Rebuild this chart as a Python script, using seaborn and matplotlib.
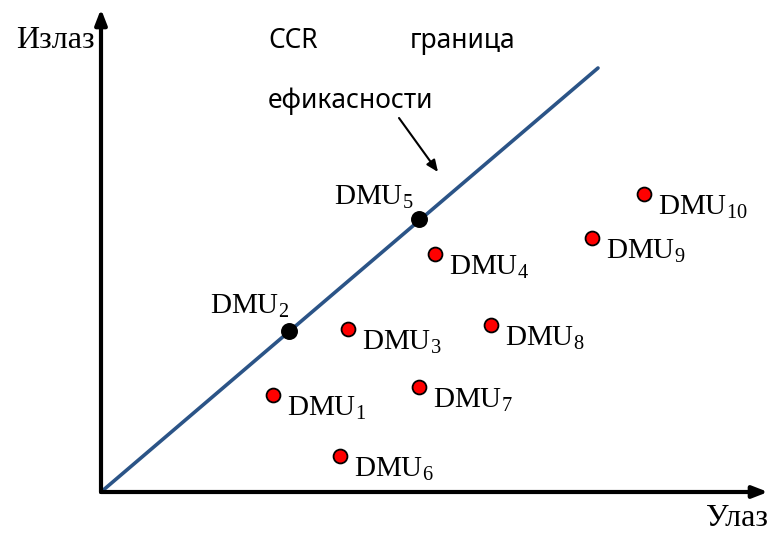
import pandas as pd
import matplotlib.pyplot as plt
import seaborn as sns

# DMU positions (input, output)
dmu = ['1', '2', '3', '4', '5', '6', '7', '8', '9', '10']
x_in = [17.2, 18.8, 24.7, 33.4, 31.8, 23.9, 31.8, 39.0, 49.1, 54.3]
y_out = [9.7, 16.1, 16.3, 23.8, 27.3, 3.6, 10.5, 16.7, 25.4, 29.8]
efficient = [False, True, False, False, True, False, False, False, False, False]

# CCR frontier end points
front_x = [0, 49.7]
front_y = [0, 42.4]

df = pd.DataFrame({'x': x_in, 'y': y_out, 'dmu': dmu, 'eff': efficient})

sns.set_style('white')
plt.rcParams['text.color'] = 'black'
plt.rcParams['mathtext.fontset'] = 'custom'
plt.rcParams['mathtext.rm'] = 'Liberation Serif'
serif = ['Liberation Serif', 'DejaVu Serif']
sans = ['Noto Sans', 'DejaVu Sans']

fig = plt.figure(figsize=(7.68, 5.33), dpi=100)
ax = fig.add_axes([0, 0, 1, 1])
ax.set_xlim(-10.1, 66.7)
ax.set_ylim(-4.1, 49.2)
ax.axis('off')

# axes with arrows
ax.annotate('', xy=(0, 48.3), xytext=(0, 0),
            arrowprops=dict(arrowstyle='-|>,head_length=0.9,head_width=0.35', lw=3, color='black',
                            shrinkA=0, shrinkB=0))
ax.annotate('', xy=(66.7, 0), xytext=(0, 0),
            arrowprops=dict(arrowstyle='-|>,head_length=0.9,head_width=0.35', lw=3, color='black',
                            shrinkA=0, shrinkB=0))

# frontier
sns.lineplot(x=front_x, y=front_y, color='#2b5487', lw=2.6, ax=ax)

# points
sns.scatterplot(data=df[~df['eff']], x='x', y='y', color='#ff0000', edgecolor='black',
                linewidth=1.3, s=100, ax=ax, zorder=3)
sns.scatterplot(data=df[df['eff']], x='x', y='y', color='black', edgecolor='black',
                linewidth=1, s=125, ax=ax, zorder=3)

for _, r in df.iterrows():
    lab = 'DMU$_{\\mathrm{%s}}$' % r['dmu']
    if r['eff']:
        off = (0, 18) if r['dmu'] == '2' else (-5, 15)
        ax.annotate(lab, (r['x'], r['y']), xytext=off, textcoords='offset pixels',
                    ha='right', va='baseline', fontsize=21, family=serif, color='black')
    else:
        ax.annotate(lab, (r['x'], r['y']), xytext=(14, -20), textcoords='offset pixels',
                    ha='left', va='baseline', fontsize=21, family=serif, color='black')

# axis titles
ax.text(-0.6, 45.2, 'Излаз', ha='right', va='center', fontsize=23, family=serif)
ax.text(66.7, -2.6, 'Улаз', ha='right', va='center', fontsize=23, family=serif)

# frontier caption
ax.text(16.7, 45.1, 'CCR', ha='left', va='center', fontsize=19, family=sans)
ax.text(30.9, 45.1, 'граница', ha='left', va='center', fontsize=19, family=sans)
ax.text(16.7, 39.1, 'ефикасности', ha='left', va='center', fontsize=19, family=sans)
ax.annotate('', xy=(33.7, 32.0), xytext=(29.8, 37.4),
            arrowprops=dict(arrowstyle='-|>,head_length=0.7,head_width=0.3', lw=1.5,
                            color='black', shrinkA=0, shrinkB=0))

fig.savefig('out.png', dpi=100)
